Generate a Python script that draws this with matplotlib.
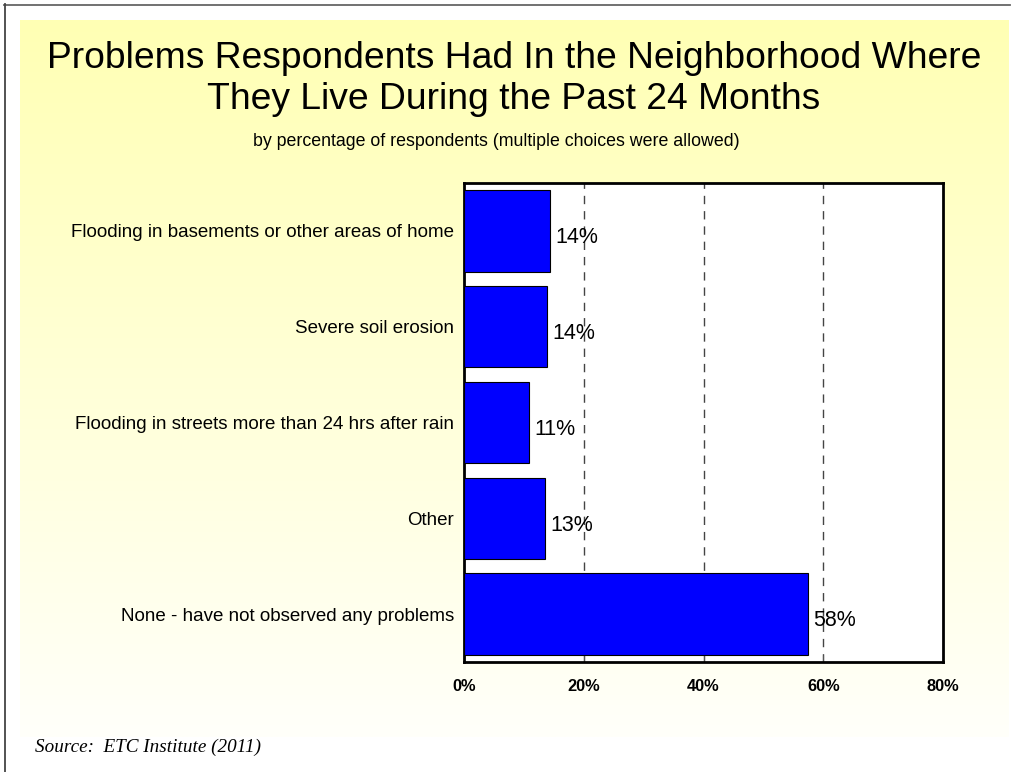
import numpy as np
import matplotlib
matplotlib.use("Agg")
import matplotlib.pyplot as plt
from matplotlib.lines import Line2D
from matplotlib.ticker import FuncFormatter

# chart data
categories = ["Flooding in basements or other areas of home",
              "Severe soil erosion",
              "Flooding in streets more than 24 hrs after rain",
              "Other",
              "None - have not observed any problems"]
values = [14.4, 13.8, 10.9, 13.6, 57.5]
labels = ["14%", "14%", "11%", "13%", "58%"]
xticks = [0, 20, 40, 60, 80]

W, H = 1013, 772

def fx(px):
    return px / W

def fy(py):
    return 1 - py / H

fig = plt.figure(figsize=(W / 100, H / 100), dpi=100)
fig.patch.set_facecolor("white")

# yellow gradient panel behind everything
bg = fig.add_axes([0, 0, 1, 1], zorder=-5)
bg.set_xlim(0, W)
bg.set_ylim(H, 0)
bg.axis("off")
top_col = np.array([255, 255, 180]) / 255
bot_col = np.array([255, 255, 250]) / 255
t = np.linspace(0, 1, 256)[:, None]
grad = top_col * (1 - t) + bot_col * t
grad = np.repeat(grad[:, None, :], 2, axis=1)
bg.imshow(grad, extent=[20, 1009, 737, 20], aspect="auto", interpolation="bilinear")
bg.add_line(Line2D([4, 1010], [4.5, 4.5], color="#666666", lw=1.3))
bg.add_line(Line2D([4.5, 4.5], [4, H], color="#444444", lw=1.3))

fig.text(fx(514), fy(79), "Problems Respondents Had In the Neighborhood Where\nThey Live During the Past 24 Months",
         ha="center", va="center", fontsize=26.8, family="Liberation Sans", linespacing=1.2)
fig.text(fx(496), fy(142), "by percentage of respondents (multiple choices were allowed)",
         ha="center", va="center", fontsize=12.8, family="Liberation Sans")
fig.text(fx(35), fy(747), "Source:  ETC Institute (2011)", ha="left", va="center",
         fontsize=13.8, family="Liberation Serif", style="italic")

ax = fig.add_axes([fx(464), fy(662), fx(943) - fx(464), (662 - 183) / H])
ax.set_facecolor("white")
y = np.arange(len(categories))
ax.barh(y, values, height=0.85, color="#0000FF", edgecolor="black", linewidth=0.8, zorder=3)
ax.set_ylim(len(categories) - 0.5, -0.5)
ax.set_xlim(0, 80)
ax.set_yticks(y)
ax.set_yticklabels(categories, fontsize=13.5, family="Liberation Sans")
ax.set_xticks(xticks)
ax.xaxis.set_major_formatter(FuncFormatter(lambda v, p: "%d%%" % v))
for lab in ax.get_xticklabels():
    lab.set_fontweight("bold")
    lab.set_fontsize(11.8)
    lab.set_family("Liberation Sans")
ax.tick_params(axis="y", length=0, pad=7)
ax.tick_params(axis="x", direction="in", length=5, color="#555555", pad=12)
for g in xticks[1:-1]:
    ax.axvline(g, color="#444444", lw=1, ls=(0, (6, 5)), zorder=1)
for s in ax.spines.values():
    s.set_linewidth(2)
    s.set_color("black")

for yi, v, lab in zip(y, values, labels):
    ax.text(v + 0.9, yi + 0.07, lab, ha="left", va="center", fontsize=15.5, family="Liberation Sans", zorder=4)

fig.savefig("out.png", dpi=100)
